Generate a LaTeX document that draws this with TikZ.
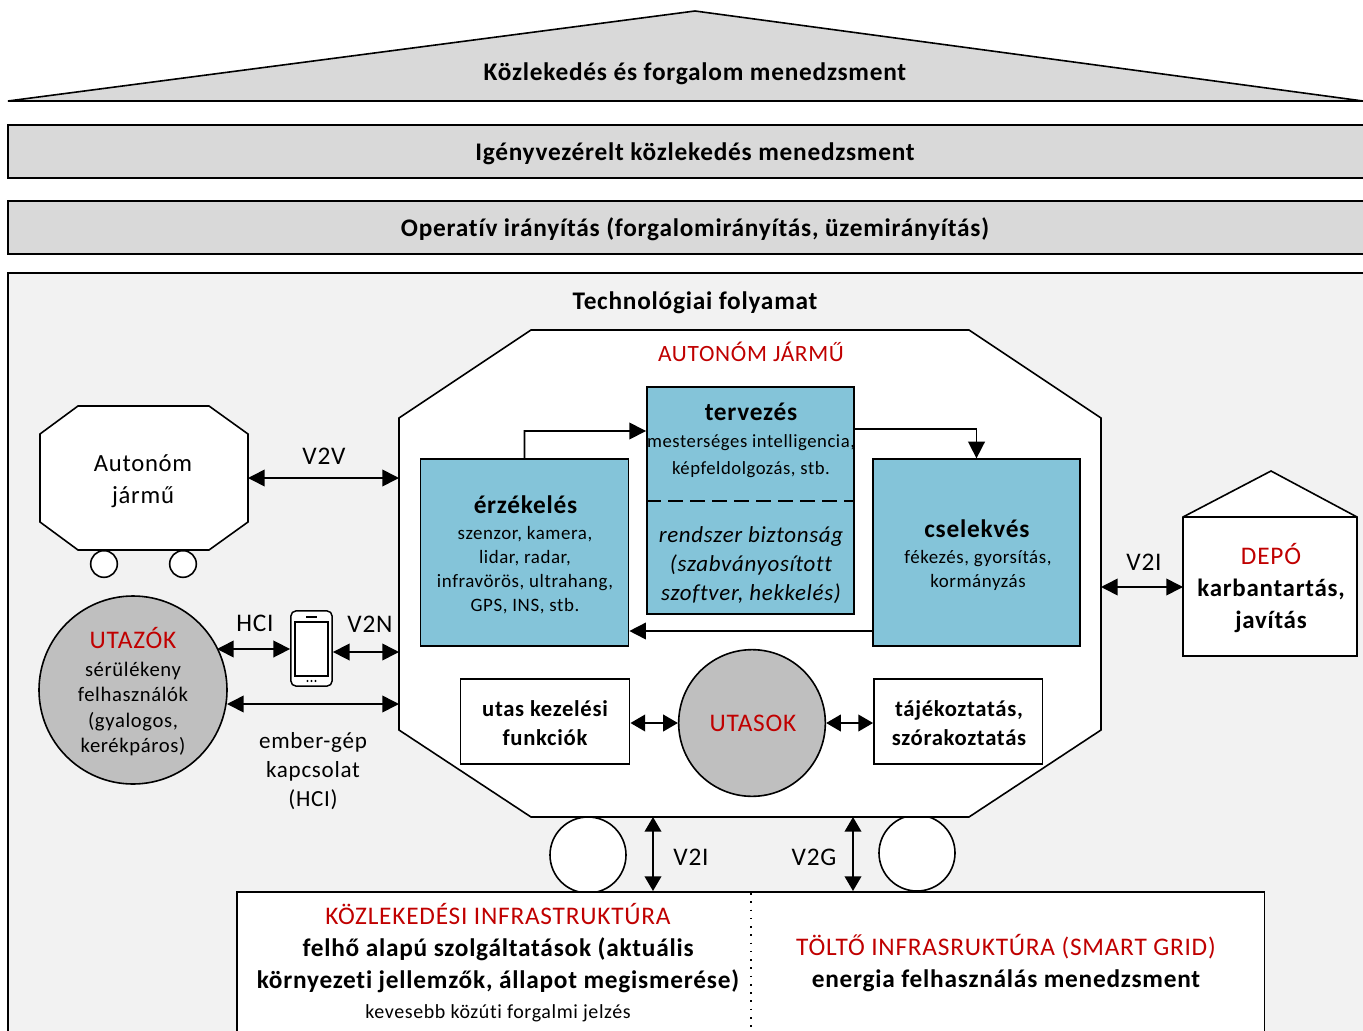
\documentclass[tikz,border=0pt]{standalone}
\usepackage{fontspec}
\setmainfont[Ligatures={TeX,NoCommon},LetterSpace=3]{Carlito}
\usetikzlibrary{arrows.meta,calc}
\definecolor{redt}{HTML}{C00000}
\definecolor{bluebox}{HTML}{84C4D9}
\definecolor{band}{HTML}{D9D9D9}
\definecolor{panel}{HTML}{F2F2F2}
\definecolor{ball}{HTML}{BFBFBF}
\newcommand{\fs}[2]{\fontsize{#1}{#2}\selectfont}
\tikzset{
  x=0.75pt,y=-0.75pt,
  ln/.style={draw=black,line width=1.2pt},
  bandbox/.style={ln,fill=band},
  txt/.style={align=center,inner sep=0pt,text=black},
  big/.style={txt,font=\fs{19}{24}\bfseries},
  lab/.style={txt,font=\fs{19}{24}},
  sm/.style={txt,font=\fs{14.2}{19.5}},
  head/.style={txt,font=\fs{19}{24},text=redt},
  bluepanel/.style={ln,fill=bluebox,minimum width=0pt},
  whitebox/.style={ln,fill=white},
  conn/.style={draw=black,line width=1.2pt,-{Triangle[length=12.5pt,width=12.5pt]}},
  conn2/.style={draw=black,line width=1.2pt,{Triangle[length=12.5pt,width=12.5pt]}-{Triangle[length=12.5pt,width=12.5pt]}},
  conn3/.style={draw=black,line width=1.2pt,{Triangle[length=11pt,width=12.5pt]}-{Triangle[length=11pt,width=12.5pt]}},
}
\begin{document}
\begin{tikzpicture}
\useasboundingbox (0,0) rectangle (1363,1031);
\fill[white] (0,0) rectangle (1363,1031);
% management levels
\path[bandbox] (8,101) -- (695,11) -- (1363,101) -- cycle;
\node[big] (t1) at (695,74) {Közlekedés és forgalom menedzsment};
\path[bandbox] (1370,125) -- (8,125) -- (8,178) -- (1370,178);
\node[big] (t2) at (695,154) {Igényvezérelt közlekedés menedzsment};
\path[bandbox] (1370,201) -- (8,201) -- (8,254) -- (1370,254);
\node[big] (t3) at (695,229) {Operatív irányítás (forgalomirányítás, üzemirányítás)};
% panel
\path[ln,fill=panel] (8,1040) -- (8,273) -- (1370,273) -- (1370,1040);
\node[big] (t4) at (695,303) {Technológiai folyamat};
% main vehicle wheels
\node[ln,fill=white,circle,minimum size=57pt,inner sep=0pt] (w1) at (588,855) {};
\node[ln,fill=white,circle,minimum size=57pt,inner sep=0pt] (w2) at (917,853) {};
% main vehicle
\path[ln,fill=white] (531,330) -- (969,330) -- (1101,418) -- (1101,730) -- (969,817) -- (531,817) -- (399,730) -- (399,418) -- cycle;
\node[txt,font=\fs{17.5}{24},text=redt] (av) at (751,352) {AUTONÓM JÁRMŰ};
% other vehicle
\path[ln,fill=white] (78,406) -- (209,406) -- (248,434) -- (248,522) -- (209,550) -- (78,550) -- (40,522) -- (40,434) -- cycle;
\node[txt,font=\fs{18.5}{24}] (ov) at (143,481) {Autonóm\\jármű};
\node[ln,fill=white,circle,minimum size=20pt,inner sep=0pt] (ow1) at (104,564) {};
\node[ln,fill=white,circle,minimum size=20pt,inner sep=0pt] (ow2) at (183,564) {};
% blue boxes
\node[bluepanel,minimum width=156pt,minimum height=140pt,inner sep=0pt] (erz) at (524.5,552.5) {};
\node[txt,font=\fs{19}{24}\bfseries] at (525.5,505) {érzékelés};
\node[sm,font=\fs{14.2}{18.1}] at (525,570) {szenzor, kamera,\\lidar, radar,\\infravörös, ultrahang,\\GPS, INS, stb.};
\node[bluepanel,minimum width=155.5pt,minimum height=170pt,inner sep=0pt] (ter) at (750.5,500.5) {};
\node[txt,font=\fs{19}{24}\bfseries] at (751,412) {tervezés};
\node[sm,font=\fs{14}{20}] at (751,456) {mesterséges intelligencia,\\képfeldolgozás, stb.};
\draw[black,line width=1.2pt,dash pattern=on 11.5pt off 5pt] (ter.west |- 0,501) -- (ter.east |- 0,501);
\node[txt,font=\fs{17.2}{21.6}\itshape] at (751,565) {rendszer biztonság\\(szabványosított\\szoftver, hekkelés)};
\node[bluepanel,minimum width=155.5pt,minimum height=140pt,inner sep=0pt] (cse) at (976.5,552.5) {};
\node[txt,font=\fs{19}{24}\bfseries] at (977,529) {cselekvés};
\node[sm,font=\fs{14.2}{18}] at (978,570) {fékezés, gyorsítás,\\kormányzás};
% lower row
\node[whitebox,minimum width=127pt,minimum height=64pt,inner sep=0pt] (utk) at (545,721.5) {};
\node[txt,font=\fs{17}{21.5}\bfseries] at (545,723) {utas kezelési\\funkciók};
\node[ln,fill=ball,circle,minimum size=110pt,inner sep=0pt] (uts) at (752,723) {};
\node[head] at (753,723) {UTASOK};
\node[whitebox,minimum width=126.5pt,minimum height=64pt,inner sep=0pt] (taj) at (958.2,721.5) {};
\node[txt,font=\fs{17}{21.5}\bfseries] at (959,723) {tájékoztatás,\\szórakoztatás};
% travellers
\node[ln,fill=ball,circle,minimum size=141pt,inner sep=0pt] (uz) at (133,690) {};
\node[head] at (133,638) {UTAZÓK};
\node[txt,font=\fs{15.5}{19}] at (133,709) {sérülékeny\\felhasználók\\(gyalogos,\\kerékpáros)};
% depot
\path[ln,fill=white] (1183,656) -- (1183,517) -- (1271,471) -- (1357,517) -- (1357,656) -- cycle;
\draw[ln] (1183,517) -- (1357,517);
\node[head] (dep) at (1271,554) {DEPÓ};
\node[txt,font=\fs{18.7}{24}\bfseries] at (1271,606) {karbantartás,\\javítás};
% phone
\node[draw=black,line width=1.1pt,fill=white,rounded corners=4pt,minimum width=31pt,minimum height=56.5pt,inner sep=0pt] (ph) at (311.5,648.5) {};
\draw[black,line width=1.1pt,fill=white] (295,622) rectangle (328,676);
\draw[black,line width=1.3pt] (306,617) -- (317,617);
\foreach \dx in {-4,0,4} \fill[black] (311.5+\dx,681) circle (0.9pt);
% infrastructure
\node[whitebox,anchor=north west,minimum width=770.5pt,minimum height=112pt,inner sep=0pt] (inf) at (236.3,891) {};
\draw[black,line width=1.2pt,dash pattern=on 1.2pt off 5pt] (751,893) -- (751,1030);
\node[head] (i1) at (498,914) {KÖZLEKEDÉSI INFRASTRUKTÚRA};
\node[txt,font=\fs{19}{24}\bfseries] at (498,965.5) {felhő alapú szolgáltatások (aktuális\\környezeti jellemzők, állapot megismerése)};
\node[txt,font=\fs{15}{18}] at (498,1013) {kevesebb közúti forgalmi jelzés};
\node[head] (i2) at (1006,947) {TÖLTŐ INFRASRUKTÚRA (SMART GRID)};
\node[txt,font=\fs{19}{24}\bfseries] at (1006,981) {energia felhasználás menedzsment};
% connector ends
\coordinate (carV2V) at (399,478);
\coordinate (ovV) at (248,478);
\coordinate (carR) at (1101,587);
\coordinate (depL) at (1183,587);
\coordinate (carN) at (399,652);
\coordinate (carH) at (399,704);
\coordinate (uzH) at (227,704);
\coordinate (uzP) at (217,649);
\coordinate (v2ia) at (653,817);
\coordinate (v2ib) at (653,891);
\coordinate (v2ga) at (853,817);
\coordinate (v2gb) at (853,891);
% connectors
\draw[conn2] (ovV) -- (carV2V);
\draw[conn2] (carR) -- (depL);
\draw[conn2] (uzP) -- (ph.west |- uzP);
\draw[conn2] (ph.east |- carN) -- (carN);
\draw[conn2] (uzH) -- (carH);
\draw[conn3] (v2ia) -- (v2ib);
\draw[conn3] (v2ga) -- (v2gb);
\draw[conn3] (utk.east |- uts) -- (uts.west);
\draw[conn3] (uts.east) -- (taj.west |- uts);
\draw[conn] ($(erz.north west)!0.5!(erz.north east)$) -- (524.5,431) -- (ter.west |- 0,431);
\draw[conn] (ter.east |- 0,429) -- (976.5,429) -- (cse.north);
\draw[conn] (cse.west |- 0,631) -- (erz.east |- 0,631);
% connector labels
\node[lab] (lv2v) at (324,456) {V2V};
\node[lab] (lv2i) at (1144,562) {V2I};
\node[lab] (lhci) at (255,623) {HCI};
\node[lab] (lv2n) at (370,624) {V2N};
\node[txt,font=\fs{17.3}{21.5}] (lem) at (313,771) {ember-gép\\kapcsolat\\(HCI)};
\node[lab] (lv2ib) at (691,857) {V2I};
\node[lab] (lv2g) at (814,857) {V2G};
\end{tikzpicture}
\end{document}
